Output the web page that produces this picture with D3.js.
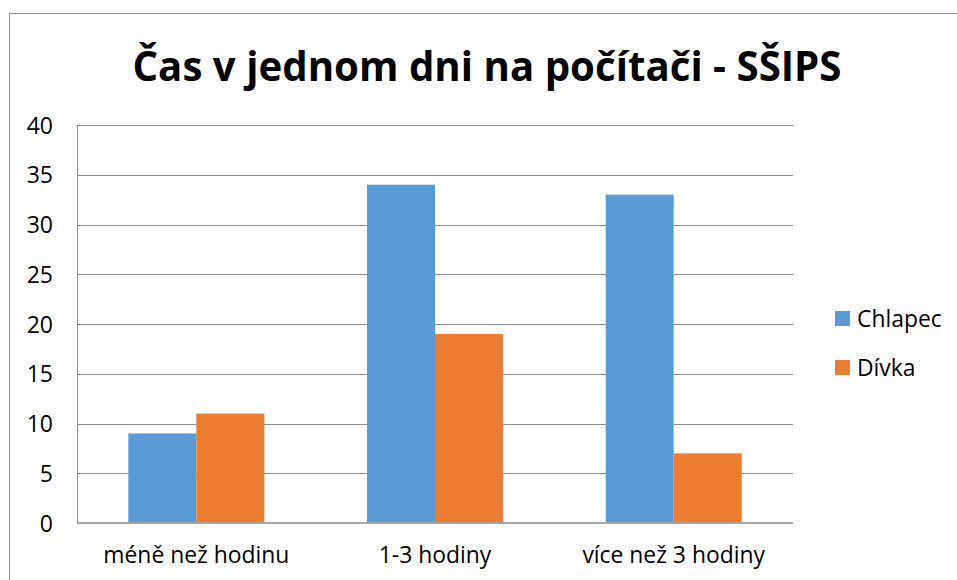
<!DOCTYPE html>
<html>
<head>
<meta charset="utf-8">
<script src="https://cdn.jsdelivr.net/npm/d3@7"></script>
<style>
  body { margin: 0; background: #fff; }
  text { font-family: "Open Sans", "Liberation Sans", sans-serif; fill: #000; }
</style>
</head>
<body>
<svg id="chart" width="957" height="580"></svg>
<script>
// data
var categories = ["méně než hodinu", "1-3 hodiny", "více než 3 hodiny"];
var seriesNames = ["Chlapec", "Dívka"];
var chlapec = [9, 34, 33];
var divka = [11, 19, 7];
var yTicks = [0, 5, 10, 15, 20, 25, 30, 35, 40];
var colors = ["#5B9BD5", "#ED7D31"];

var svg = d3.select("#chart");
var plot = {left: 77, right: 793, top: 125, bottom: 523};

// squeeze text sideways so a wider font looks more like the narrow original
function squeeze(sel, k) {
  sel.each(function() {
    var w = this.getComputedTextLength();
    d3.select(this).attr("textLength", w * k).attr("lengthAdjust", "spacingAndGlyphs");
  });
}

// outer border (only top and left visible)
svg.append("rect")
  .attr("x", 9.5).attr("y", 13.5)
  .attr("width", 1000).attr("height", 1000)
  .attr("fill", "none").attr("stroke", "#8c8c8c").attr("stroke-width", 1);

// title
var title = svg.append("text")
  .attr("x", 487).attr("y", 81)
  .attr("text-anchor", "middle")
  .attr("font-size", 42).attr("font-weight", "bold")
  .text("Čas v jednom dni na počítači - SŠIPS");
squeeze(title, 709 / title.node().getComputedTextLength());

var x0 = d3.scaleBand().domain(categories)
  .range([plot.left, plot.right])
  .paddingInner(0.43).paddingOuter(0.215);
var x1 = d3.scaleBand().domain(seriesNames).range([0, x0.bandwidth()]);
var y = d3.scaleLinear().domain([0, 40]).range([plot.bottom, plot.top]);

// gridlines
svg.append("g").selectAll("line").data(yTicks.slice(1)).join("line")
  .attr("x1", plot.left).attr("x2", plot.right)
  .attr("y1", function(d){ return Math.round(y(d)) + 0.5; })
  .attr("y2", function(d){ return Math.round(y(d)) + 0.5; })
  .attr("stroke", "#8c8c8c").attr("stroke-width", 1);

// y axis line
svg.append("line")
  .attr("x1", plot.left + 0.5).attr("x2", plot.left + 0.5)
  .attr("y1", plot.top).attr("y2", plot.bottom)
  .attr("stroke", "#8c8c8c");

// bars
var rows = categories.map(function(c, i){ return {cat: c, vals: [chlapec[i], divka[i]]}; });
svg.append("g").selectAll("g").data(rows).join("g")
  .attr("transform", function(d){ return "translate(" + x0(d.cat) + ",0)"; })
  .selectAll("rect").data(function(d){ return d.vals.map(function(v, j){ return {s: seriesNames[j], v: v, j: j}; }); })
  .join("rect")
  .attr("x", function(d){ return x1(d.s); })
  .attr("width", x1.bandwidth())
  .attr("y", function(d){ return y(d.v); })
  .attr("height", function(d){ return y(0) - y(d.v); })
  .attr("fill", function(d){ return colors[d.j]; });

// x axis line
svg.append("line")
  .attr("x1", plot.left).attr("x2", plot.right)
  .attr("y1", plot.bottom).attr("y2", plot.bottom)
  .attr("stroke", "#a6a6a6").attr("stroke-width", 2);

// y tick labels
svg.append("g").selectAll("text").data(yTicks).join("text")
  .attr("x", 53).attr("y", function(d){ return y(d) + 8.5; })
  .attr("text-anchor", "end")
  .attr("font-size", 23)
  .text(function(d){ return d; });

// category labels
var catLabels = svg.append("g").selectAll("text").data(categories).join("text")
  .attr("x", function(d){ return x0(d) + x0.bandwidth() / 2; })
  .attr("y", 563)
  .attr("text-anchor", "middle")
  .attr("font-size", 23.5)
  .text(function(d){ return d; });
var k = 186 / catLabels.node().getComputedTextLength();
squeeze(catLabels, k);

// legend
var legend = svg.append("g").selectAll("g").data(seriesNames).join("g")
  .attr("transform", function(d, i){ return "translate(835," + (311 + i * 49) + ")"; });
legend.append("rect").attr("width", 15).attr("height", 15)
  .attr("fill", function(d, i){ return colors[i]; });
var legText = legend.append("text").attr("x", 22).attr("y", 16)
  .attr("font-size", 23.5)
  .text(function(d){ return d; });
squeeze(legText, k);
</script>
</body>
</html>
